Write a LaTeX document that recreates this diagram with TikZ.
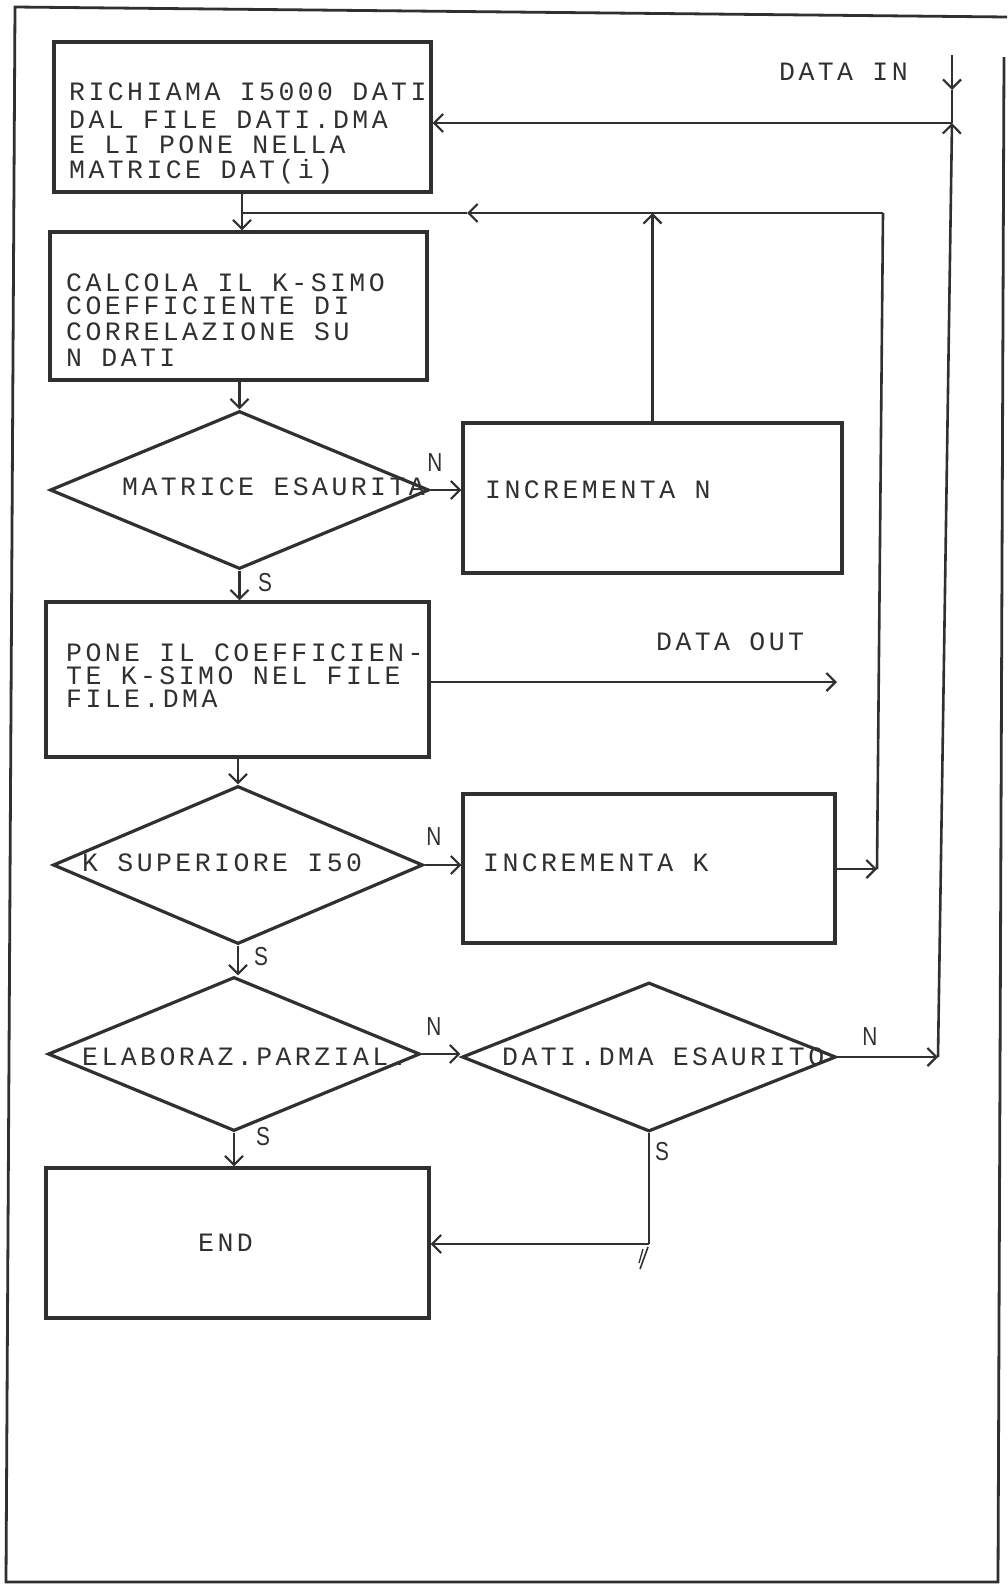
\documentclass[tikz,border=0pt]{standalone}
\usepackage{fontspec}
\setmainfont{Liberation Mono}
\newfontfamily\twfont[LetterSpace=13]{Liberation Mono}
\newfontfamily\labfont[FakeStretch=0.8]{Liberation Sans}
\usetikzlibrary{arrows.meta,shapes.geometric}
\definecolor{ink}{HTML}{303030}
\tikzset{
 boxst/.style={draw=ink, line width=3.2pt, rectangle, inner sep=0pt},
 diast/.style={draw=ink, line width=3.2pt, diamond, inner sep=0pt},
 conn/.style={draw=ink, line width=2.6pt},
 arr/.style={conn, -{Straight Barb[length=9pt,width=18pt,line width=2.2pt]}},
 txt/.style={anchor=west, inner sep=0pt, text=ink, text height=17pt, text depth=0pt, font=\twfont\fontsize{26.5}{26.5}\selectfont},
 lab/.style={anchor=center, inner sep=0pt, text=ink, font=\labfont\fontsize{26}{26}\selectfont}
}
\begin{document}
\begin{tikzpicture}[x=1pt,y=-1pt]
\useasboundingbox (0,0) rectangle (1007,1585);
% frame
\draw[draw=ink, line width=2.8pt] (1004,57) -- (998,1582) -- (6,1582) -- (15,7) -- (1007,17);

% boxes
\node[boxst, minimum width=377pt, minimum height=150pt] (b1) at (242.5,117) {};
\node[boxst, minimum width=377pt, minimum height=148pt] (b2) at (238.5,306) {};
\node[boxst, minimum width=379pt, minimum height=150pt] (b3) at (652.5,498) {};
\node[boxst, minimum width=383pt, minimum height=155pt] (b4) at (237.5,679.5) {};
\node[boxst, minimum width=372pt, minimum height=149pt] (b5) at (649,868.5) {};
\node[boxst, minimum width=383pt, minimum height=150pt] (b6) at (237.5,1243) {};
% diamonds
\node[diast, minimum width=379pt, minimum height=158pt] (d1) at (239.5,490) {};
\node[diast, minimum width=370pt, minimum height=158pt] (d2) at (238,865) {};
\node[diast, minimum width=372pt, minimum height=154pt] (d3) at (234,1054) {};
\node[diast, minimum width=374pt, minimum height=149pt] (d4) at (649,1057) {};

% texts
\node[txt] (t1a) at (69,92) {RICHIAMA I5000 DATI};
\node[txt] (t1b) at (69,120) {DAL FILE DATI.DMA};
\node[txt] (t1c) at (69,145) {E LI PONE NELLA};
\node[txt] (t1d) at (69,170) {MATRICE DAT(i)};
\node[txt] (t2a) at (66,283) {CALCOLA IL K-SIMO};
\node[txt] (t2b) at (66,306) {COEFFICIENTE DI};
\node[txt] (t2c) at (66,332) {CORRELAZIONE SU};
\node[txt] (t2d) at (66,358) {N DATI};
\node[txt] (td1) at (122,487) {MATRICE ESAURITA};
\node[txt] (t3) at (485,490) {INCREMENTA N};
\node[txt] (t4a) at (66,653) {PONE IL COEFFICIEN-};
\node[txt] (t4b) at (66,676) {TE K-SIMO NEL FILE};
\node[txt] (t4c) at (66,699) {FILE.DMA};
\node[txt] (tdo) at (656,642) {DATA OUT};
\node[txt] (td2) at (82,863) {K SUPERIORE I50};
\node[txt] (t5) at (483,863) {INCREMENTA K};
\node[txt] (td3) at (82,1057) {ELABORAZ.PARZIAL.};
\node[txt] (td4) at (502,1057) {DATI.DMA ESAURITO};
\node[txt] (t6) at (198,1243) {END};
\node[txt] (tdi) at (779,72) {DATA IN};

% labels
\node[lab] (l1) at (435,463) {N};
\node[lab] (l2) at (265,583) {S};
\node[lab] (l3) at (434,837) {N};
\node[lab] (l4) at (261,957) {S};
\node[lab] (l5) at (434,1027) {N};
\node[lab] (l6) at (870,1037) {N};
\node[lab] (l7) at (263,1137) {S};
\node[lab] (l8) at (662,1152) {S};

% coordinates
\coordinate (din) at (952,55);
\coordinate (dinm) at (952,90);
\coordinate (jin) at (952,123);
\coordinate (jright) at (938,1057);
\coordinate (jtop) at (242,213);
\coordinate (jmid) at (467,213);
\coordinate (jtr) at (883,213);
\coordinate (jk) at (877,869);
\coordinate (jend) at (649,1244);
\coordinate (dout) at (837,682);

% connectors
\draw[arr] (din) -- (dinm);
\draw[conn] (dinm) -- (jin);
\draw[arr] (jin) -- (jin -| b1.east);
\draw[arr] (d4.east) -- (jright);
\draw[arr] (jright) -- (jin);
\draw[conn] (b1.south -| jtop) -- (jtop);
\draw[arr] (jtop) -- (jtop |- b2.north);
\draw[arr] (b5.east |- jk) -- (jk);
\draw[conn] (jk) -- (jtr);
\draw[arr] (jtr) -- (jmid);
\draw[conn] (jmid) -- (jtop);
\draw[arr] (b3.north) -- (b3.north |- jtop);
\draw[arr] (d1.north |- b2.south) -- (d1.north);
\draw[arr] (d1.east) -- (d1.east -| b3.west);
\draw[arr] (d1.south) -- (d1.south |- b4.north);
\draw[arr] (b4.east |- dout) -- (dout);
\draw[arr] (d2.north |- b4.south) -- (d2.north);
\draw[arr] (d2.east) -- (d2.east -| b5.west);
\draw[arr] (d2.south) -- (d2.south |- d3.north);
\draw[arr] (d3.east) -- (d3.east -| d4.west);
\draw[arr] (d3.south) -- (d3.south |- b6.north);
\draw[conn] (d4.south) -- (jend);
\draw[arr] (jend) -- (jend -| b6.east);
\draw[conn, line width=1.6pt] ([shift={(-1,3)}]jend) -- ++(-8,22);
\draw[conn, line width=1.3pt] ([shift={(-6,5)}]jend) -- ++(-4,14);
\end{tikzpicture}
\end{document}
